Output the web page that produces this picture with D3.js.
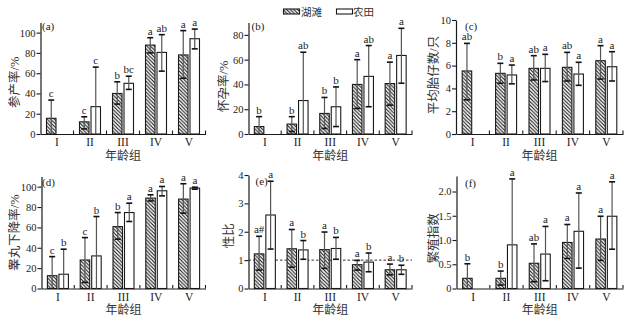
<!DOCTYPE html>
<html><head><meta charset="utf-8">
<script src="https://cdn.jsdelivr.net/npm/d3@7"></script>
<style>
html,body{margin:0;padding:0;background:#fff;}
svg{display:block;}
text{font-family:"Liberation Serif","Times New Roman","Noto Sans CJK SC",serif;}
</style></head>
<body>
<svg id="c" width="630" height="324"></svg>
<script>
// ---------- DATA ----------
const categories = ["I", "II", "III", "IV", "V"];
const seriesNames = ["湖滩", "农田"];
const xTitle = "年龄组";

// each entry: [mean, lower, upper]; null = no data
// (a) 参产率/%
const aLake = [[15.5,0,33.5],[12,5,17],[40,29.5,51.5],[87.7,80,95],[78,55,102]];
const aFarm = [null,[27,0,66],[50,44,57],[80.5,62,98],[94,84,103.5]];
const aLakeSig = ["c","c","b","a","a"];
const aFarmSig = ["","c","bc","ab","a"];
// (b) 怀孕率/%
const bLake = [[6,0,14],[8,2,14],[16.6,4.5,29.5],[40,20.6,60],[40.7,23.3,58]];
const bFarm = [null,[27,0,66],[22,6,38],[46.5,22,71.4],[63.4,41,85.3]];
const bLakeSig = ["b","b","b","a","a"];
const bFarmSig = ["","ab","b","ab","a"];
// (c) 平均胎仔数/只
const cLake = [[5.53,3.0,7.95],[5.32,4.45,6.2],[5.76,4.74,6.87],[5.85,4.65,7.16],[6.43,4.82,7.75]];
const cFarm = [null,[5.18,4.4,6.05],[5.76,4.6,6.99],[5.26,4.27,6.29],[5.9,4.65,7.22]];
const cLakeSig = ["ab","b","ab","ab","a"];
const cFarmSig = ["","a","a","a","a"];
// (d) 睾丸下降率/%
const dLake = [[12.6,0,31.3],[28,6,50],[60.8,48.4,74.6],[88.8,86,92],[87.8,74,102.9]];
const dFarm = [[14,0,38.6],[32,0,70.7],[74.6,65.8,83.8],[96,91,100.2],[98.6,97.5,99.5]];
const dLakeSig = ["c","c","b","a","a"];
const dFarmSig = ["b","b","a","a","a"];
// (e) 性比
const eLake = [[1.22,0.65,1.84],[1.4,0.75,2.08],[1.37,0.71,1.99],[0.84,0.65,0.99],[0.66,0.48,0.86]];
const eFarm = [[2.59,1.39,3.78],[1.36,1.03,1.69],[1.41,1.03,1.8],[0.93,0.59,1.25],[0.66,0.5,0.82]];
const eLakeSig = ["a#","a","a","a","a"];
const eFarmSig = ["a","b","b","b","b"];
const eRefLine = 1;
// (f) 繁殖指数
const fLake = [[0.21,0,0.51],[0.21,0.07,0.36],[0.52,0.14,0.92],[0.95,0.62,1.32],[1.02,0.58,1.49]];
const fFarm = [null,[0.9,0,2.26],[0.71,0.16,1.28],[1.18,0.42,1.97],[1.49,0.81,2.2]];
const fLakeSig = ["b","b","ab","a","a"];
const fFarmSig = ["","a","a","a","a"];

// tick labels
const ticksPct110 = [0,20,40,60,80,100];
const ticksPct90 = [0,20,40,60,80];
const ticksLitter = [0,2,4,6,8,10];
const ticksSex = [0,1,2,3,4];
const ticksIndex = [0,0.5,1.0,1.5,2.0];

// ---------- LAYOUT ----------
const panels = [
  {tag:"(a)", title:"参产率/%", lake:aLake, farm:aFarm, ls:aLakeSig, fs:aFarmSig, ymax:110, ticks:ticksPct110, fmt:d3.format("d"),
   L:40.5, R:205.5, T:22.5, B:134, tagDx:1.5, tagY:29.5, labX:15, labDy:4},
  {tag:"(b)", title:"怀孕率/%", lake:bLake, farm:bFarm, ls:bLakeSig, fs:bFarmSig, ymax:90, ticks:ticksPct90, fmt:d3.format("d"),
   L:248.5, R:412, T:22.5, B:134, tagDx:3, tagY:30, labX:224, labDy:8},
  {tag:"(c)", title:"平均胎仔数/只", lake:cLake, farm:cFarm, ls:cLakeSig, fs:cFarmSig, ymax:10, ticks:ticksLitter, fmt:d3.format("d"),
   L:456, R:623, T:20, B:134, tagDx:9, tagY:29.5, labX:434, labDy:-2},
  {tag:"(d)", title:"睾丸下降率/%", lake:dLake, farm:dFarm, ls:dLakeSig, fs:dFarmSig, ymax:110, ticks:ticksPct110, fmt:d3.format("d"),
   L:41.5, R:205.5, T:176.5, B:288.5, tagDx:0.5, tagY:186, labX:15, labDy:0},
  {tag:"(e)", title:"性比", lake:eLake, farm:eFarm, ls:eLakeSig, fs:eFarmSig, ymax:4, ticks:ticksSex, fmt:d3.format("d"),
   L:248.5, R:412, T:175, B:288.5, tagDx:7, tagY:185, labX:229, labDy:4, ref:eRefLine},
  {tag:"(f)", title:"繁殖指数", lake:fLake, farm:fFarm, ls:fLakeSig, fs:fFarmSig, ymax:2.32, ticks:ticksIndex, fmt:d=> d===0?"0":d3.format(".1f")(d),
   L:456.5, R:623, T:176, B:288.5, tagDx:8.5, tagY:187, labX:434, labDy:6},
];

const svg = d3.select("#c");
svg.append("rect").attr("width",630).attr("height",324).attr("fill","#fff");

const defs = svg.append("defs");
const pat = defs.append("pattern").attr("id","hatch").attr("patternUnits","userSpaceOnUse")
  .attr("width",3.6).attr("height",3.6);
pat.append("rect").attr("width",3.6).attr("height",3.6).attr("fill","#fff");
pat.append("path").attr("d","M-1,-1 L4.6,4.6 M-1,2.6 L1,4.6 M2.6,-1 L4.6,1")
  .attr("stroke","#111").attr("stroke-width",1.1);

const INK = "#1a1a1a";
const BARW = 9.5;

panels.forEach(p => {
  const g = svg.append("g");
  const x = d3.scaleBand().domain(categories).range([p.L, p.R]).padding(0);
  const y = d3.scaleLinear().domain([0, p.ymax]).range([p.B, p.T]);

  // y axis
  const ya = g.append("g").attr("transform",`translate(${p.L},0)`)
    .call(d3.axisLeft(y).tickValues(p.ticks).tickFormat(p.fmt).tickSize(4).tickSizeOuter(0).tickPadding(1));
  ya.select(".domain").attr("stroke",INK).attr("stroke-width",1.2);
  ya.selectAll(".tick line").attr("stroke",INK).attr("stroke-width",1.1);
  ya.selectAll(".tick text").attr("font-size",10.5).attr("fill","#222")
    .attr("font-family","Liberation Serif");

  // x axis (labels at centers, boundary ticks drawn from band scale)
  const xa = g.append("g").attr("transform",`translate(0,${p.B})`)
    .call(d3.axisBottom(x).tickSize(0).tickPadding(4).tickSizeOuter(0));
  xa.select(".domain").attr("stroke",INK).attr("stroke-width",1.2);
  xa.selectAll(".tick text").attr("font-size",11.5).attr("fill","#222")
    .attr("font-family","Liberation Serif");
  const bounds = categories.slice(1).map(c => x(c)).concat([p.R]);
  g.selectAll(".bt").data(bounds).enter().append("line")
    .attr("x1",d=>d).attr("x2",d=>d).attr("y1",p.B).attr("y2",p.B-3.5)
    .attr("stroke",INK).attr("stroke-width",1.1);

  // x title
  g.append("text").attr("x",(p.L+p.R)/2).attr("y",p.B+25.5).attr("text-anchor","middle")
    .attr("font-size",12).attr("fill","#333").attr("font-family","Noto Sans CJK SC").text(xTitle);

  // y title
  g.append("text").attr("transform",`translate(${p.labX},${(p.T+p.B)/2+p.labDy}) rotate(-90)`)
    .attr("text-anchor","middle").attr("dominant-baseline","central")
    .attr("font-size",12.5).attr("fill","#333").attr("font-family","Noto Sans CJK SC").text(p.title);

  // panel tag
  g.append("text").attr("x",p.L+p.tagDx).attr("y",p.tagY).attr("font-size",11).attr("fill","#222")
    .attr("font-family","Liberation Serif").text(p.tag);

  // reference line
  if (p.ref !== undefined) {
    g.append("line").attr("x1",p.L).attr("x2",p.R).attr("y1",y(p.ref)).attr("y2",y(p.ref))
      .attr("stroke","#333").attr("stroke-width",1).attr("stroke-dasharray","2.5,2");
  }

  const series = [
    {vals:p.lake, sig:p.ls, off:-BARW-1, fill:"url(#hatch)"},
    {vals:p.farm, sig:p.fs, off:1, fill:"#fff"}
  ];
  series.forEach(s => {
    const items = categories.map((c,i)=>({c, v:s.vals[i], sig:s.sig[i]})).filter(d=>d.v);
    const bx = d => x(d.c) + x.bandwidth()/2 + s.off;
    const cx = d => bx(d) + BARW/2;
    g.selectAll(null).data(items).enter().append("rect")
      .attr("x",bx).attr("width",BARW)
      .attr("y",d=>y(d.v[0])).attr("height",d=>y(0)-y(d.v[0]))
      .attr("fill",s.fill).attr("stroke",INK).attr("stroke-width",1.1);
    // error bars
    g.selectAll(null).data(items).enter().append("line")
      .attr("x1",cx).attr("x2",cx).attr("y1",d=>y(d.v[1])).attr("y2",d=>y(d.v[2]))
      .attr("stroke","#555").attr("stroke-width",1.2);
    g.selectAll(null).data(items).enter().append("line")
      .attr("x1",d=>cx(d)-3).attr("x2",d=>cx(d)+3).attr("y1",d=>y(d.v[2])).attr("y2",d=>y(d.v[2]))
      .attr("stroke","#111").attr("stroke-width",1.6);
    g.selectAll(null).data(items.filter(d=>d.v[1]>0)).enter().append("line")
      .attr("x1",d=>cx(d)-3).attr("x2",d=>cx(d)+3).attr("y1",d=>y(d.v[1])).attr("y2",d=>y(d.v[1]))
      .attr("stroke","#111").attr("stroke-width",1.6);
    // significance letters
    g.selectAll(null).data(items.filter(d=>d.sig)).enter().append("text")
      .attr("x",cx).attr("y",d=>y(d.v[2])-3).attr("text-anchor","middle")
      .attr("font-size",11).attr("fill","#222").attr("font-family","Liberation Serif")
      .text(d=>d.sig);
  });
});

// legend
const lg = svg.append("g");
const legendItems = [
  {name:seriesNames[0], fill:"url(#hatch)", x:283.5, tx:301},
  {name:seriesNames[1], fill:"#fff", x:336.5, tx:353}
];
legendItems.forEach(it => {
  lg.append("rect").attr("x",it.x).attr("y",9).attr("width",16).attr("height",5)
    .attr("fill",it.fill).attr("stroke",INK).attr("stroke-width",1.1);
  lg.append("text").attr("x",it.tx).attr("y",15.5).attr("font-size",10.5).attr("fill","#333")
    .attr("font-family","Noto Sans CJK SC").text(it.name);
});
</script>
</body></html>
